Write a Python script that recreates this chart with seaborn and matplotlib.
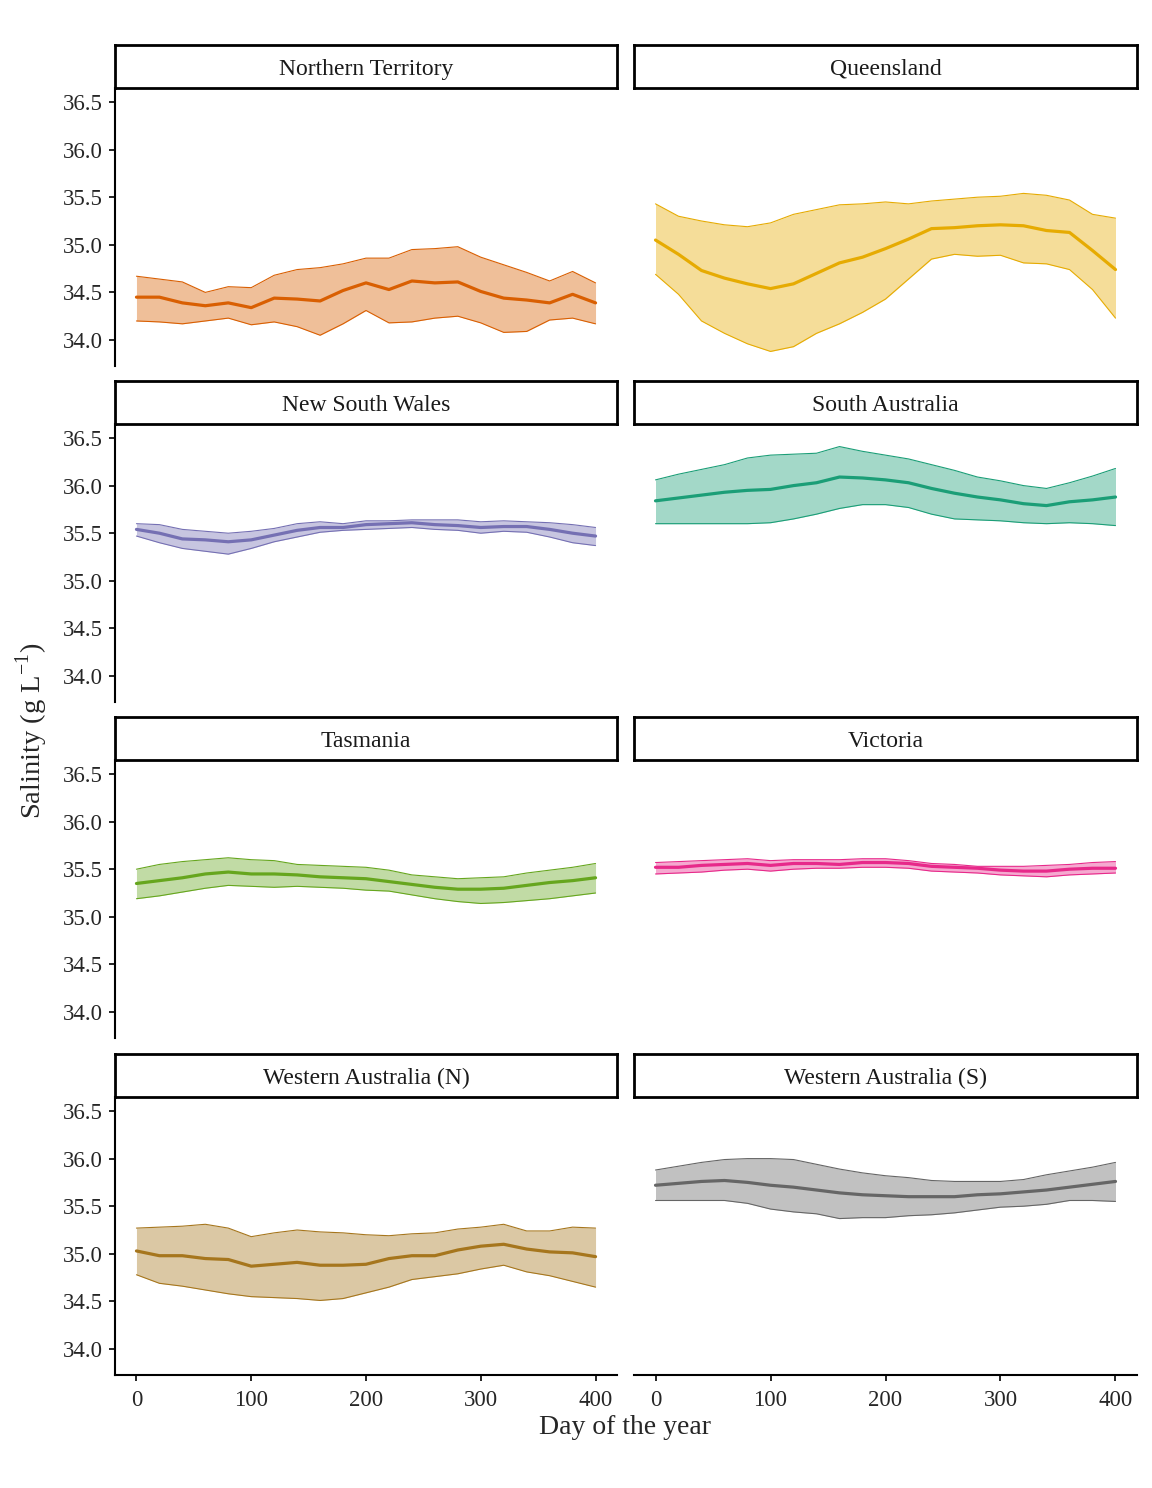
import numpy as np
import pandas as pd
import matplotlib
matplotlib.use("Agg")
import matplotlib.pyplot as plt
import seaborn as sns

# day of the year (sampled every 20 days)
days = [0, 20, 40, 60, 80, 100, 120, 140, 160, 180, 200,
        220, 240, 260, 280, 300, 320, 340, 360, 380, 400]

# Northern Territory
nt_mean = [34.45, 34.45, 34.39, 34.36, 34.39, 34.34, 34.44, 34.43, 34.41, 34.52, 34.60,
           34.53, 34.62, 34.60, 34.61, 34.51, 34.44, 34.42, 34.39, 34.48, 34.39]
nt_lo = [34.20, 34.19, 34.17, 34.20, 34.23, 34.16, 34.19, 34.14, 34.05, 34.17, 34.31,
         34.18, 34.19, 34.23, 34.25, 34.18, 34.08, 34.09, 34.21, 34.23, 34.17]
nt_hi = [34.67, 34.64, 34.61, 34.50, 34.56, 34.55, 34.68, 34.74, 34.76, 34.80, 34.86,
         34.86, 34.95, 34.96, 34.98, 34.87, 34.79, 34.71, 34.62, 34.72, 34.60]

# Queensland
qld_mean = [35.05, 34.90, 34.73, 34.65, 34.59, 34.54, 34.59, 34.70, 34.81, 34.87, 34.96,
            35.06, 35.17, 35.18, 35.20, 35.21, 35.20, 35.15, 35.13, 34.94, 34.74]
qld_lo = [34.69, 34.48, 34.20, 34.07, 33.96, 33.88, 33.93, 34.07, 34.17, 34.29, 34.43,
          34.64, 34.85, 34.90, 34.88, 34.89, 34.81, 34.80, 34.74, 34.53, 34.23]
qld_hi = [35.43, 35.30, 35.25, 35.21, 35.19, 35.23, 35.32, 35.37, 35.42, 35.43, 35.45,
          35.43, 35.46, 35.48, 35.50, 35.51, 35.54, 35.52, 35.47, 35.32, 35.28]

# New South Wales
nsw_mean = [35.54, 35.50, 35.44, 35.43, 35.41, 35.43, 35.48, 35.53, 35.56, 35.56, 35.59,
            35.60, 35.61, 35.59, 35.58, 35.56, 35.57, 35.57, 35.54, 35.50, 35.47]
nsw_lo = [35.47, 35.40, 35.34, 35.31, 35.28, 35.34, 35.41, 35.46, 35.51, 35.53, 35.54,
          35.55, 35.56, 35.54, 35.53, 35.50, 35.52, 35.51, 35.46, 35.40, 35.37]
nsw_hi = [35.60, 35.59, 35.54, 35.52, 35.50, 35.52, 35.55, 35.60, 35.62, 35.60, 35.63,
          35.63, 35.64, 35.64, 35.64, 35.62, 35.63, 35.62, 35.61, 35.59, 35.56]

# South Australia
sa_mean = [35.84, 35.87, 35.90, 35.93, 35.95, 35.96, 36.00, 36.03, 36.09, 36.08, 36.06,
           36.03, 35.97, 35.92, 35.88, 35.85, 35.81, 35.79, 35.83, 35.85, 35.88]
sa_lo = [35.60, 35.60, 35.60, 35.60, 35.60, 35.61, 35.65, 35.70, 35.76, 35.80, 35.80,
         35.77, 35.70, 35.65, 35.64, 35.63, 35.61, 35.60, 35.61, 35.60, 35.58]
sa_hi = [36.06, 36.12, 36.17, 36.22, 36.29, 36.32, 36.33, 36.34, 36.41, 36.36, 36.32,
         36.28, 36.22, 36.16, 36.09, 36.05, 36.00, 35.97, 36.03, 36.10, 36.18]

# Tasmania
tas_mean = [35.35, 35.38, 35.41, 35.45, 35.47, 35.45, 35.45, 35.44, 35.42, 35.41, 35.40,
            35.37, 35.34, 35.31, 35.29, 35.29, 35.30, 35.33, 35.36, 35.38, 35.41]
tas_lo = [35.19, 35.22, 35.26, 35.30, 35.33, 35.32, 35.31, 35.32, 35.31, 35.30, 35.28,
          35.27, 35.23, 35.19, 35.16, 35.14, 35.15, 35.17, 35.19, 35.22, 35.25]
tas_hi = [35.50, 35.55, 35.58, 35.60, 35.62, 35.60, 35.59, 35.55, 35.54, 35.53, 35.52,
          35.49, 35.44, 35.42, 35.40, 35.41, 35.42, 35.46, 35.49, 35.52, 35.56]

# Victoria
vic_mean = [35.52, 35.52, 35.54, 35.55, 35.56, 35.54, 35.56, 35.56, 35.55, 35.57, 35.57,
            35.56, 35.53, 35.52, 35.51, 35.49, 35.48, 35.48, 35.50, 35.51, 35.51]
vic_lo = [35.45, 35.46, 35.47, 35.49, 35.50, 35.48, 35.50, 35.51, 35.51, 35.52, 35.52,
          35.51, 35.48, 35.47, 35.46, 35.44, 35.43, 35.42, 35.44, 35.45, 35.46]
vic_hi = [35.57, 35.58, 35.59, 35.60, 35.61, 35.59, 35.60, 35.60, 35.60, 35.61, 35.61,
          35.59, 35.56, 35.55, 35.53, 35.53, 35.53, 35.54, 35.55, 35.57, 35.58]

# Western Australia (N)
wan_mean = [35.03, 34.98, 34.98, 34.95, 34.94, 34.87, 34.89, 34.91, 34.88, 34.88, 34.89,
            34.95, 34.98, 34.98, 35.04, 35.08, 35.10, 35.05, 35.02, 35.01, 34.97]
wan_lo = [34.78, 34.69, 34.66, 34.62, 34.58, 34.55, 34.54, 34.53, 34.51, 34.53, 34.59,
          34.65, 34.73, 34.76, 34.79, 34.84, 34.88, 34.81, 34.77, 34.71, 34.65]
wan_hi = [35.27, 35.28, 35.29, 35.31, 35.27, 35.18, 35.22, 35.25, 35.23, 35.22, 35.20,
          35.19, 35.21, 35.22, 35.26, 35.28, 35.31, 35.24, 35.24, 35.28, 35.27]

# Western Australia (S)
was_mean = [35.72, 35.74, 35.76, 35.77, 35.75, 35.72, 35.70, 35.67, 35.64, 35.62, 35.61,
            35.60, 35.60, 35.60, 35.62, 35.63, 35.65, 35.67, 35.70, 35.73, 35.76]
was_lo = [35.56, 35.56, 35.56, 35.56, 35.53, 35.47, 35.44, 35.42, 35.37, 35.38, 35.38,
          35.40, 35.41, 35.43, 35.46, 35.49, 35.50, 35.52, 35.56, 35.56, 35.55]
was_hi = [35.88, 35.92, 35.96, 35.99, 36.00, 36.00, 35.99, 35.94, 35.89, 35.85, 35.82,
          35.80, 35.77, 35.76, 35.76, 35.76, 35.78, 35.83, 35.87, 35.91, 35.96]

states = ['Northern Territory', 'Queensland', 'New South Wales', 'South Australia',
          'Tasmania', 'Victoria', 'Western Australia (N)', 'Western Australia (S)']
means = [nt_mean, qld_mean, nsw_mean, sa_mean, tas_mean, vic_mean, wan_mean, was_mean]
lows = [nt_lo, qld_lo, nsw_lo, sa_lo, tas_lo, vic_lo, wan_lo, was_lo]
highs = [nt_hi, qld_hi, nsw_hi, sa_hi, tas_hi, vic_hi, wan_hi, was_hi]

dark2 = sns.color_palette("Dark2", 8)
colours = [dark2[1], dark2[5], dark2[2], dark2[0], dark2[4], dark2[3], dark2[6], dark2[7]]

# long table for seaborn
df = pd.concat([
    pd.DataFrame({'state': s, 'day': days, 'mean': m, 'lo': lo, 'hi': hi})
    for s, m, lo, hi in zip(states, means, lows, highs)
], ignore_index=True)

sns.set_style("white")
plt.rcParams['font.family'] = ['Liberation Serif', 'DejaVu Serif']
plt.rcParams['mathtext.fontset'] = 'custom'
plt.rcParams['mathtext.rm'] = 'Liberation Serif'

W, H = 1152, 1488
fig = plt.figure(figsize=(W / 100, H / 100), dpi=100)

col_x = [(115, 502), (634, 503)]
row_top = [88, 424, 760, 1097]
panel_h = 278
strip_h = 43

for i, state in enumerate(states):
    r, c = divmod(i, 2)
    x0, w = col_x[c]
    top = row_top[r]
    ax = fig.add_axes([x0 / W, 1 - (top + panel_h) / H, w / W, panel_h / H])
    sax = fig.add_axes([x0 / W, 1 - top / H, w / W, strip_h / H])

    sub = df[df['state'] == state]
    col = colours[i]
    ax.fill_between(sub['day'], sub['lo'], sub['hi'], color=col, alpha=0.4, lw=0)
    ax.plot(sub['day'], sub['lo'], color=col, lw=0.8)
    ax.plot(sub['day'], sub['hi'], color=col, lw=0.8)
    sns.lineplot(data=sub, x='day', y='mean', color=col, lw=2.3, ax=ax)

    ax.set_xlim(-18.7, 418.7)
    ax.set_ylim(33.727, 36.647)
    ax.set_yticks([34.0, 34.5, 35.0, 35.5, 36.0, 36.5])
    ax.set_yticklabels(['34.0', '34.5', '35.0', '35.5', '36.0', '36.5'])
    ax.set_xticks([0, 100, 200, 300, 400])
    ax.set_xlabel('')
    ax.set_ylabel('')
    for sp in ['top', 'right']:
        ax.spines[sp].set_visible(False)
    ax.spines['left'].set_linewidth(1.5)
    ax.spines['bottom'].set_linewidth(1.5)
    ax.spines['left'].set_color('black')
    ax.spines['bottom'].set_color('black')
    ax.tick_params(axis='both', direction='out', length=4.5, width=1.2,
                   left=True, bottom=True, color='black', labelsize=16.5,
                   labelcolor='#262626', pad=4)
    if c == 1:
        ax.spines['left'].set_visible(False)
        ax.tick_params(axis='y', left=False, labelleft=False)
    if r < 3:
        ax.spines['bottom'].set_visible(False)
        ax.tick_params(axis='x', bottom=False, labelbottom=False)
    else:
        ax.tick_params(axis='x', pad=6)

    sax.set_xticks([])
    sax.set_yticks([])
    for sp in sax.spines.values():
        sp.set_linewidth(2.0)
        sp.set_color('black')
    sax.text(0.5, 0.44, state, ha='center', va='center', fontsize=17,
             color='#1A1A1A', transform=sax.transAxes)

fig.text(625 / W, 1 - 1427 / H, 'Day of the year', ha='center', va='center', fontsize=20)
fig.text(32 / W, 1 - 731 / H, 'Salinity (g L$^{-1}$)', ha='center', va='center',
         rotation=90, fontsize=20.5)

fig.savefig('out.png', dpi=100)
